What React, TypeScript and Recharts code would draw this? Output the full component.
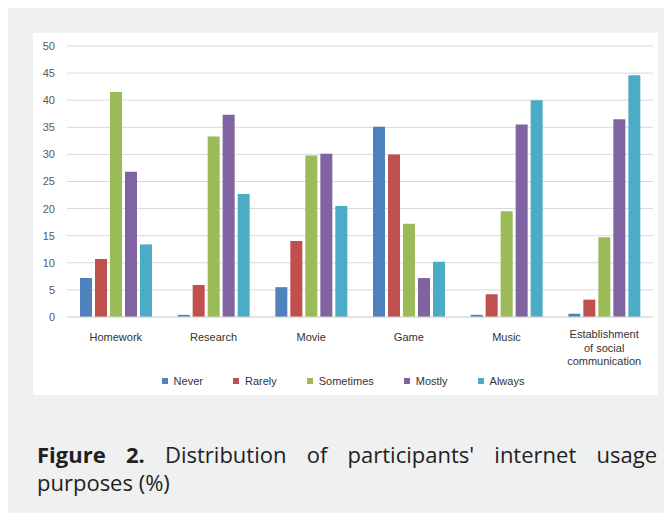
import React from "react";
import { BarChart, Bar, XAxis, YAxis, CartesianGrid, Legend } from "recharts";

const purposes = ["Homework", "Research", "Movie", "Game", "Music", "Establishment of social communication"];

const seriesNames = ["Never", "Rarely", "Sometimes", "Mostly", "Always"];
const seriesColors = ["#4f81bd", "#c0504d", "#9bbb59", "#8064a2", "#4bacc6"];

// percentages per purpose, same order as `purposes`
const never = [7.2, 0.4, 5.5, 35.1, 0.4, 0.6];
const rarely = [10.7, 5.9, 14.0, 30.0, 4.2, 3.2];
const sometimes = [41.5, 33.3, 29.8, 17.2, 19.5, 14.7];
const mostly = [26.8, 37.3, 30.1, 7.2, 35.5, 36.5];
const always = [13.4, 22.7, 20.5, 10.2, 40.0, 44.6];

const yTicks = [0, 5, 10, 15, 20, 25, 30, 35, 40, 45, 50];

const seriesValues = [never, rarely, sometimes, mostly, always];

const data = purposes.map((name, i) => {
  const row: Record<string, string | number> = { name };
  seriesNames.forEach((s, j) => {
    row[s] = seriesValues[j][i];
  });
  return row;
});

const FONT = '"Liberation Sans", Arial, sans-serif';

// greedy word wrap, roughly one column width of text per line
function wrapLabel(label: string, maxChars = 14): string[] {
  const words = label.split(" ");
  const lines: string[] = [];
  let cur = "";
  for (const w of words) {
    const next = cur ? cur + " " + w : w;
    if (next.length > maxChars && cur) {
      lines.push(cur);
      cur = w;
    } else {
      cur = next;
    }
  }
  if (cur) lines.push(cur);
  return lines;
}

function PurposeTick(props: any) {
  const { x, y, payload } = props;
  const lines = wrapLabel(String(payload.value));
  const first = lines.length > 1 ? 19 : 22;
  return (
    <text x={x} y={y + first} textAnchor="middle" fontSize={11} fill="#333" fontFamily={FONT}>
      {lines.map((l, i) => (
        <tspan key={l} x={x} dy={i === 0 ? 0 : 13.5}>
          {l}
        </tspan>
      ))}
    </text>
  );
}

function LegendRow() {
  return (
    <div
      style={{
        height: 20,
        display: "flex",
        justifyContent: "center",
        alignItems: "center",
        gap: 30,
        fontFamily: FONT,
        fontSize: 11,
        color: "#333",
      }}
    >
      {seriesNames.map((s, i) => (
        <div key={s} style={{ display: "flex", alignItems: "center", gap: 6 }}>
          <span style={{ width: 6, height: 6, background: seriesColors[i], display: "inline-block" }} />
          <span>{s}</span>
        </div>
      ))}
    </div>
  );
}

export default function App() {
  return (
    <div style={{ position: "relative", width: 664, height: 505, background: "#eff0f2" }}>
      <div style={{ position: "absolute", left: 25, top: 25, width: 625, height: 362, background: "#fff" }}>
        <BarChart
          width={625}
          height={362}
          data={data}
          margin={{ top: 13, right: 5, bottom: 4, left: 0 }}
          barSize={12}
          barGap={3}
        >
          <CartesianGrid vertical={false} stroke="#d9d9d9" />
          <XAxis
            dataKey="name"
            height={54}
            axisLine={{ stroke: "#d9d9d9" }}
            tickLine={false}
            tickSize={0}
            interval={0}
            tick={<PurposeTick />}
          />
          <YAxis
            width={34}
            domain={[0, 50]}
            ticks={yTicks}
            axisLine={false}
            tickLine={false}
            tickSize={0}
            tickMargin={12}
            tick={{ fontSize: 11, fill: "#595959", fontFamily: FONT }}
          />
          <Legend verticalAlign="bottom" content={() => <LegendRow />} />
          {seriesNames.map((s, i) => (
            <Bar key={s} dataKey={s} fill={seriesColors[i]} isAnimationActive={false} />
          ))}
        </BarChart>
      </div>
      <div
        style={{
          position: "absolute",
          left: 29,
          top: 432,
          width: 620,
          fontFamily: '"Open Sans", sans-serif',
          fontSize: 22,
          lineHeight: "28px",
          color: "#231f20",
          textAlign: "justify",
        }}
      >
        <b>Figure 2.</b> Distribution of participants' internet usage purposes (%)
      </div>
    </div>
  );
}
